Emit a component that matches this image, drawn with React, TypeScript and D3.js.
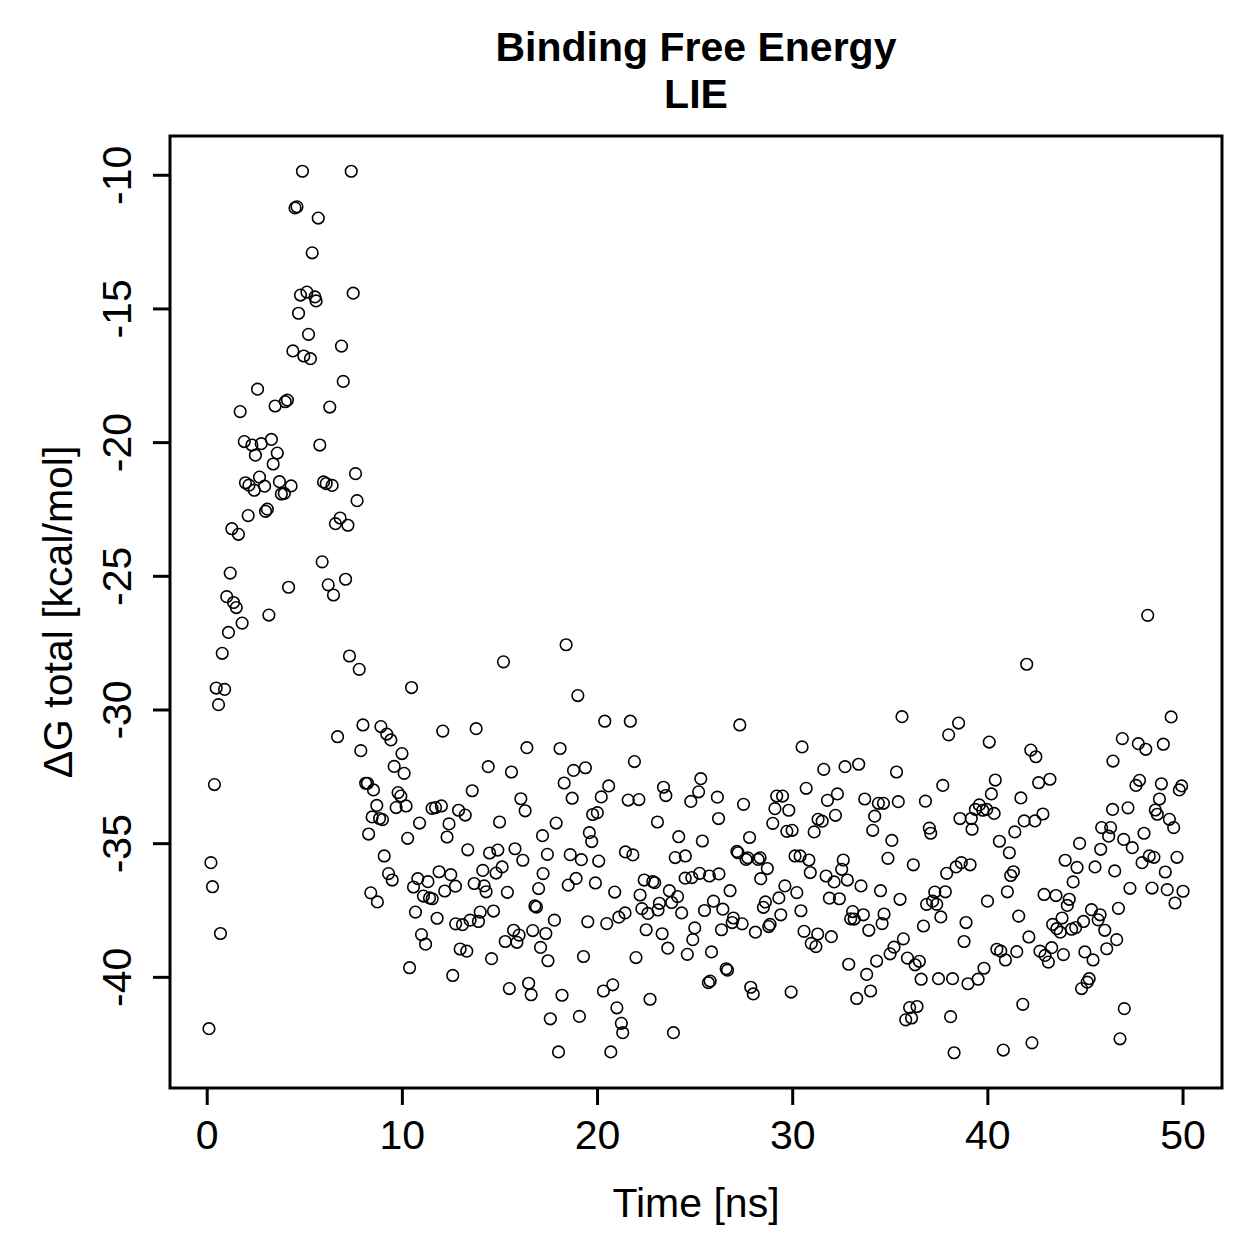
import React from 'react';
import { scaleLinear, extent } from 'd3';

// simulation time (ns) and LIE binding free energy (kcal/mol), one pair per frame
const time = [
  0.09, 0.19, 0.27, 0.37, 0.46, 0.58, 0.68, 0.77, 0.89, 1.0,
  1.09, 1.18, 1.26, 1.35, 1.49, 1.6, 1.69, 1.79, 1.9, 1.96,
  2.1, 2.14, 2.29, 2.41, 2.47, 2.58, 2.68, 2.77, 2.94, 2.99,
  3.08, 3.16, 3.29, 3.38, 3.48, 3.59, 3.7, 3.8, 3.95, 4.0,
  4.11, 4.17, 4.3, 4.39, 4.5, 4.6, 4.68, 4.78, 4.88, 4.95,
  5.11, 5.19, 5.29, 5.38, 5.52, 5.58, 5.69, 5.77, 5.89, 5.96,
  6.1, 6.2, 6.28, 6.4, 6.47, 6.57, 6.68, 6.81, 6.88, 6.97,
  7.09, 7.21, 7.29, 7.38, 7.48, 7.6, 7.68, 7.79, 7.87, 7.98,
  8.12, 8.21, 8.27, 8.38, 8.45, 8.52, 8.69, 8.72, 8.83, 8.9,
  8.98, 9.07, 9.2, 9.29, 9.41, 9.48, 9.58, 9.68, 9.78, 9.92,
  9.98, 10.09, 10.19, 10.27, 10.37, 10.47, 10.57, 10.67, 10.79, 10.88,
  10.98, 11.08, 11.19, 11.31, 11.39, 11.52, 11.53, 11.7, 11.78, 11.88,
  12.0, 12.07, 12.17, 12.29, 12.39, 12.48, 12.58, 12.72, 12.73, 12.88,
  12.96, 13.08, 13.22, 13.3, 13.35, 13.47, 13.58, 13.68, 13.78, 13.9,
  13.99, 14.12, 14.19, 14.29, 14.4, 14.47, 14.57, 14.67, 14.8, 14.89,
  14.98, 15.11, 15.18, 15.27, 15.38, 15.48, 15.59, 15.7, 15.77, 15.87,
  15.98, 16.07, 16.17, 16.29, 16.38, 16.47, 16.6, 16.68, 16.79, 16.87,
  16.98, 17.08, 17.18, 17.21, 17.35, 17.43, 17.46, 17.58, 17.79, 17.88,
  18.0, 18.08, 18.18, 18.29, 18.39, 18.5, 18.6, 18.7, 18.77, 18.9,
  18.99, 19.07, 19.17, 19.28, 19.38, 19.5, 19.58, 19.7, 19.75, 19.89,
  19.99, 20.06, 20.19, 20.3, 20.37, 20.47, 20.57, 20.68, 20.78, 20.88,
  20.99, 21.09, 21.22, 21.29, 21.41, 21.43, 21.57, 21.68, 21.81, 21.89,
  21.97, 22.12, 22.18, 22.27, 22.39, 22.49, 22.58, 22.69, 22.83, 22.93,
  23.07, 23.1, 23.17, 23.31, 23.38, 23.5, 23.6, 23.68, 23.8, 23.89,
  23.98, 24.1, 24.16, 24.31, 24.49, 24.5, 24.6, 24.78, 24.83, 24.88,
  24.98, 25.18, 25.23, 25.29, 25.37, 25.48, 25.68, 25.73, 25.77, 25.84,
  25.94, 26.14, 26.2, 26.22, 26.35, 26.42, 26.59, 26.66, 26.79, 26.9,
  26.96, 27.14, 27.2, 27.29, 27.41, 27.48, 27.61, 27.7, 27.79, 27.85,
  27.98, 28.09, 28.23, 28.33, 28.36, 28.5, 28.6, 28.7, 28.77, 28.84,
  28.98, 29.09, 29.18, 29.29, 29.39, 29.48, 29.6, 29.7, 29.8, 29.92,
  29.97, 30.12, 30.21, 30.38, 30.42, 30.48, 30.58, 30.69, 30.83, 30.9,
  30.95, 31.1, 31.19, 31.28, 31.3, 31.51, 31.59, 31.71, 31.78, 31.88,
  31.98, 32.12, 32.19, 32.29, 32.39, 32.51, 32.59, 32.68, 32.8, 32.87,
  32.97, 33.07, 33.15, 33.28, 33.38, 33.5, 33.62, 33.69, 33.79, 33.9,
  33.99, 34.1, 34.2, 34.3, 34.39, 34.5, 34.58, 34.65, 34.68, 34.88,
  34.99, 35.08, 35.19, 35.32, 35.41, 35.5, 35.6, 35.67, 35.79, 35.88,
  35.99, 36.09, 36.18, 36.27, 36.37, 36.49, 36.58, 36.7, 36.8, 36.86,
  37.0, 37.07, 37.17, 37.28, 37.38, 37.47, 37.59, 37.69, 37.82, 37.89,
  37.99, 38.09, 38.19, 38.27, 38.37, 38.5, 38.57, 38.64, 38.78, 38.88,
  38.98, 39.09, 39.15, 39.19, 39.36, 39.5, 39.56, 39.74, 39.8, 39.94,
  39.98, 40.07, 40.18, 40.32, 40.38, 40.46, 40.59, 40.66, 40.79, 40.9,
  41.0, 41.1, 41.17, 41.31, 41.38, 41.48, 41.58, 41.69, 41.79, 41.86,
  41.99, 42.1, 42.2, 42.26, 42.41, 42.46, 42.6, 42.67, 42.82, 42.88,
  42.93, 43.1, 43.18, 43.27, 43.32, 43.49, 43.53, 43.71, 43.8, 43.87,
  43.96, 44.07, 44.17, 44.29, 44.37, 44.5, 44.57, 44.7, 44.8, 44.9,
  44.97, 45.09, 45.19, 45.31, 45.39, 45.49, 45.65, 45.75, 45.78, 45.83,
  45.99, 46.09, 46.19, 46.29, 46.39, 46.41, 46.5, 46.6, 46.69, 46.77,
  46.89, 46.96, 46.99, 47.18, 47.28, 47.4, 47.59, 47.71, 47.77, 47.9,
  48.0, 48.09, 48.19, 48.27, 48.41, 48.51, 48.58, 48.68, 48.79, 48.89,
  48.99, 49.09, 49.19, 49.3, 49.39, 49.52, 49.59, 49.69, 49.81, 49.93,
  50.0,
];

const dgTotal = [
  -41.92, -35.71, -36.61, -32.79, -29.18, -29.8, -38.36, -27.88, -29.23, -25.76,
  -27.1, -24.88, -23.22, -25.98, -26.17, -23.43, -18.84, -26.75, -19.96, -21.5,
  -22.73, -21.59, -20.09, -21.78, -20.47, -18.0, -21.29, -20.04, -21.63, -22.57,
  -22.49, -26.45, -19.88, -20.8, -18.63, -20.39, -21.46, -21.92, -21.9, -18.47,
  -18.41, -25.41, -21.62, -16.57, -11.22, -11.18, -15.16, -14.48, -9.85, -16.76,
  -14.37, -15.95, -16.86, -12.9, -14.55, -14.7, -11.6, -20.09, -24.46, -21.47,
  -21.53, -25.32, -18.67, -21.6, -25.7, -23.03, -31.0, -22.82, -16.39, -17.71,
  -25.11, -23.09, -27.98, -9.85, -14.41, -21.16, -22.17, -28.48, -31.52, -30.56,
  -32.74, -32.74, -34.64, -36.84, -34.0, -32.99, -33.57, -37.18, -34.06, -30.62,
  -34.1, -35.46, -30.9, -36.12, -31.12, -36.36, -32.11, -33.65, -33.09, -33.22,
  -31.63, -32.37, -33.59, -34.8, -39.64, -29.16, -36.62, -37.56, -36.31, -34.23,
  -38.4, -36.96, -38.76, -36.42, -37.03, -33.68, -37.06, -33.65, -37.79, -36.05,
  -33.59, -30.79, -36.77, -34.75, -34.26, -36.16, -39.93, -36.59, -38.0, -33.75,
  -38.94, -38.03, -33.93, -39.02, -35.23, -37.86, -33.02, -36.49, -30.7, -37.91,
  -37.56, -36.0, -36.58, -36.8, -32.12, -35.35, -39.3, -37.52, -36.1, -35.24,
  -34.19, -35.87, -28.2, -38.66, -36.82, -40.42, -32.32, -38.24, -35.19, -38.69,
  -38.42, -33.32, -35.62, -33.77, -31.41, -40.22, -40.65, -38.25, -37.33, -37.37,
  -36.68, -38.88, -34.7, -36.12, -38.36, -35.4, -39.38, -41.55, -37.86, -34.23,
  -42.79, -31.44, -40.67, -32.73, -27.56, -36.55, -35.41, -33.3, -32.26, -36.3,
  -29.46, -41.46, -35.6, -39.22, -32.16, -37.92, -34.59, -34.92, -33.91, -36.47,
  -33.84, -35.65, -33.25, -40.51, -30.42, -37.99, -32.84, -42.79, -40.28, -36.81,
  -41.14, -37.75, -41.72, -42.07, -37.59, -35.31, -33.37, -30.42, -35.42, -31.93,
  -39.26, -33.35, -36.92, -37.43, -36.36, -38.22, -37.61, -40.82, -36.42, -36.46,
  -34.19, -37.48, -37.23, -38.37, -32.89, -33.2, -38.91, -36.76, -37.2, -42.07,
  -35.52, -36.98, -34.74, -37.59, -36.29, -35.46, -39.14, -33.42, -36.27, -38.59,
  -38.15, -33.06, -36.11, -32.57, -34.9, -37.5, -40.2, -36.21, -40.14, -39.05,
  -37.15, -33.26, -34.06, -36.13, -38.22, -37.45, -39.68, -39.73, -36.76, -37.95,
  -37.78, -35.29, -35.34, -30.56, -38.0, -33.53, -35.59, -35.53, -34.77, -40.37,
  -40.62, -38.31, -35.59, -35.53, -36.31, -37.38, -37.18, -35.93, -38.1, -38.02,
  -34.24, -33.69, -33.22, -37.03, -37.66, -33.22, -36.58, -34.54, -33.75, -40.55,
  -34.5, -35.46, -36.83, -35.46, -37.51, -31.38, -38.28, -32.93, -35.61, -36.08,
  -38.73, -34.56, -38.85, -38.38, -34.09, -34.16, -32.22, -36.21, -33.38, -37.04,
  -38.48, -36.43, -33.94, -33.14, -37.06, -35.96, -35.61, -32.12, -36.36, -39.51,
  -37.81, -37.54, -37.82, -40.79, -32.03, -36.58, -37.66, -33.33, -39.89, -38.24,
  -40.51, -34.5, -33.97, -39.39, -33.49, -36.76, -37.99, -33.49, -37.63, -35.55,
  -39.12, -34.88, -38.87, -32.32, -33.43, -37.08, -30.25, -38.56, -41.59, -39.28,
  -41.13, -41.52, -35.79, -39.53, -41.09, -39.4, -40.07, -38.08, -33.41, -37.27,
  -34.42, -34.61, -37.15, -36.81, -37.27, -40.05, -37.74, -32.82, -36.8, -36.11,
  -30.93, -41.47, -40.05, -42.82, -35.87, -30.49, -34.06, -35.71, -38.66, -37.95,
  -40.24, -35.79, -34.06, -34.46, -33.72, -40.07, -33.55, -33.75, -39.66, -33.72,
  -37.15, -31.2, -33.14, -33.87, -32.62, -38.95, -34.91, -39.02, -42.72, -39.35,
  -36.8, -35.34, -36.19, -36.05, -34.56, -39.04, -37.71, -33.29, -41.01, -34.15,
  -28.29, -38.49, -31.5, -42.45, -34.15, -31.75, -32.72, -39.02, -33.89, -36.9,
  -39.18, -39.43, -32.59, -38.89, -38.02, -36.94, -38.18, -38.31, -37.78, -39.15,
  -35.62, -37.31, -37.08, -38.2, -36.43, -38.14, -35.89, -34.99, -40.42, -37.91,
  -39.05, -40.18, -40.05, -37.47, -39.35, -35.87, -37.85, -37.66, -35.21, -34.4,
  -38.24, -38.93, -34.72, -34.4, -33.72, -31.91, -36.02, -38.59, -37.42, -42.3,
  -31.07, -34.84, -41.17, -33.66, -36.67, -35.15, -32.82, -31.26, -32.63, -35.71,
  -34.61, -31.47, -26.46, -35.46, -36.66, -35.51, -33.74, -33.9, -33.33, -32.76,
  -31.28, -36.06, -36.72, -34.09, -30.26, -34.4, -37.22, -35.51, -32.99, -32.84,
  -36.78,
];

const xTicks = [0, 10, 20, 30, 40, 50];
const yTicks = [-10, -15, -20, -25, -30, -35, -40];
const titleLines = ['Binding Free Energy', 'LIE'];
const xLabel = 'Time [ns]';
const yLabel = 'ΔG total [kcal/mol]';

const W = 1259;
const H = 1259;
const box = { left: 170, right: 1222, top: 136, bottom: 1088 };
const FONT = '"Liberation Sans", Arial, Helvetica, sans-serif';
const FS = 41;
const TICK = 17;

// base-graphics style range: data extent widened by 4% on each side
const padded = (vals: number[]): [number, number] => {
  const [lo, hi] = extent(vals) as [number, number];
  const pad = (hi - lo) * 0.04;
  return [lo - pad, hi + pad];
};

export default function App() {
  const x = scaleLinear().domain(padded(time)).range([box.left, box.right]);
  const y = scaleLinear().domain(padded(dgTotal)).range([box.bottom, box.top]);
  const cx = (box.left + box.right) / 2;
  const cy = (box.top + box.bottom) / 2;

  return (
    <svg
      width={W}
      height={H}
      style={{ position: 'absolute', left: 0, top: 0, background: '#fff' }}
      fontFamily={FONT}
    >
      <rect x={0} y={0} width={W} height={H} fill="#fff" />

      {titleLines.map((t, i) => (
        <text key={t} x={cx} y={61 + i * 47} textAnchor="middle" fontSize={FS} fontWeight="bold">
          {t}
        </text>
      ))}

      {/* points */}
      <g fill="none" stroke="#000" strokeWidth={1.6}>
        {time.map((t, i) => (
          <circle key={i} cx={x(t)} cy={y(dgTotal[i])} r={5.8} />
        ))}
      </g>

      {/* frame */}
      <rect
        x={box.left}
        y={box.top}
        width={box.right - box.left}
        height={box.bottom - box.top}
        fill="none"
        stroke="#000"
        strokeWidth={3}
      />

      {/* x axis */}
      <g stroke="#000" strokeWidth={3}>
        {xTicks.map((t) => (
          <line key={t} x1={x(t)} x2={x(t)} y1={box.bottom} y2={box.bottom + TICK} />
        ))}
      </g>
      {xTicks.map((t) => (
        <text key={t} x={x(t)} y={1149} textAnchor="middle" fontSize={FS}>
          {t}
        </text>
      ))}
      <text x={cx} y={1217} textAnchor="middle" fontSize={FS}>
        {xLabel}
      </text>

      {/* y axis */}
      <g stroke="#000" strokeWidth={3}>
        {yTicks.map((t) => (
          <line key={t} x1={box.left - TICK} x2={box.left} y1={y(t)} y2={y(t)} />
        ))}
      </g>
      {yTicks.map((t) => (
        <text
          key={t}
          transform={`translate(131,${y(t)}) rotate(-90)`}
          textAnchor="middle"
          fontSize={FS}
        >
          {t}
        </text>
      ))}
      <text transform={`translate(72,${cy}) rotate(-90)`} textAnchor="middle" fontSize={FS}>
        {yLabel}
      </text>
    </svg>
  );
}
